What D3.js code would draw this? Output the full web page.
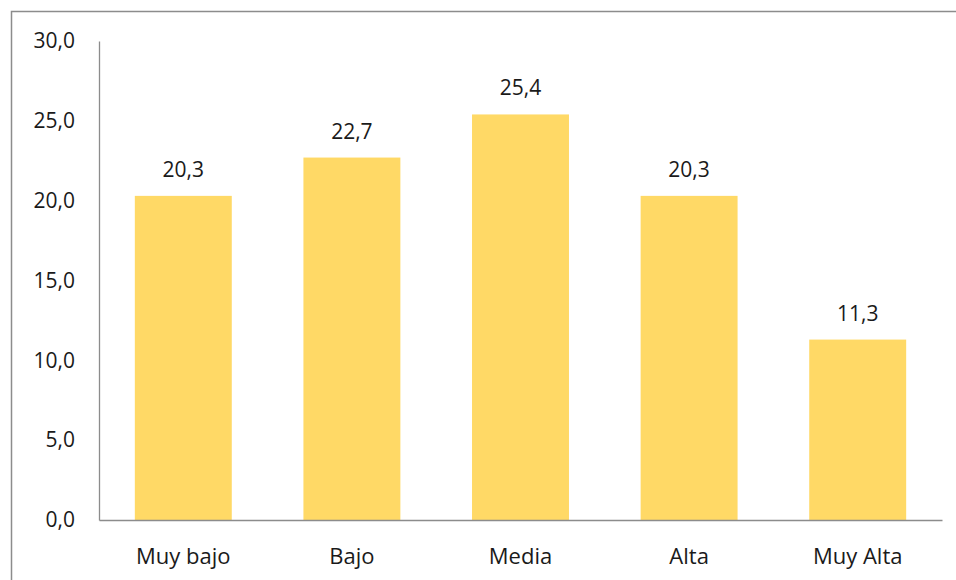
<!DOCTYPE html>
<html>
<head>
<meta charset="utf-8">
<script src="https://cdn.jsdelivr.net/npm/d3@7"></script>
<style>
    body { margin: 0; background: #fff; }
    text { font-family: "Open Sans", "Noto Sans", sans-serif; fill: #1a1a1a; }
</style>
</head>
<body>
<div id="space"></div>
<script>
var categories = ["Muy bajo", "Bajo", "Media", "Alta", "Muy Alta"];
var values = [20.3, 22.7, 25.4, 20.3, 11.3];
var yTicks = [0, 5, 10, 15, 20, 25, 30];

var width = 956, height = 580;
var plotLeft = 99, plotRight = 942, plotTop = 41, plotBottom = 520;

var svg = d3.select("#space").append("svg")
    .attr("width", width)
    .attr("height", height);

// outer frame (runs off the right and bottom)
svg.append("rect")
    .attr("x", 11.5).attr("y", 11.5)
    .attr("width", 960).attr("height", 600)
    .attr("fill", "none")
    .attr("stroke", "#8c8c8c")
    .attr("stroke-width", 1.5);

var x = d3.scaleBand().domain(categories).range([plotLeft, plotRight]).paddingInner(0.425).paddingOuter(0.2125);
var y = d3.scaleLinear().domain([0, 30]).range([plotBottom, plotTop]);

var fmt = function (d) { return d.toFixed(1).replace(".", ","); };

//Bars
svg.append("g").selectAll("rect")
    .data(values)
    .enter().append("rect")
    .attr("x", function (d, i) { return x(categories[i]); })
    .attr("y", function (d) { return y(d); })
    .attr("width", x.bandwidth())
    .attr("height", function (d) { return plotBottom - y(d); })
    .attr("fill", "#FFD966");

//Value labels
svg.append("g").selectAll("text")
    .data(values)
    .enter().append("text")
    .attr("x", function (d, i) { return x(categories[i]) + x.bandwidth() / 2; })
    .attr("y", function (d) { return y(d) - 19; })
    .attr("text-anchor", "middle")
    .attr("font-size", "21px")
    .text(fmt);

//Y axis
var yAxis = svg.append("g")
    .attr("transform", "translate(" + plotLeft + ",0)")
    .call(d3.axisLeft(y).tickValues(yTicks).tickSize(0).tickPadding(24).tickFormat(fmt));
yAxis.select(".domain").attr("stroke", "#8c8c8c").attr("stroke-width", 1.3);
yAxis.selectAll("text").attr("font-size", "21px").attr("font-family", null);

//X axis
var xAxis = svg.append("g")
    .attr("transform", "translate(0," + plotBottom + ")")
    .call(d3.axisBottom(x).tickSize(0).tickPadding(28));
xAxis.select(".domain").attr("stroke", "#8c8c8c").attr("stroke-width", 1.3);
xAxis.selectAll("text").attr("font-size", "22px").attr("font-family", null);
</script>
</body>
</html>
